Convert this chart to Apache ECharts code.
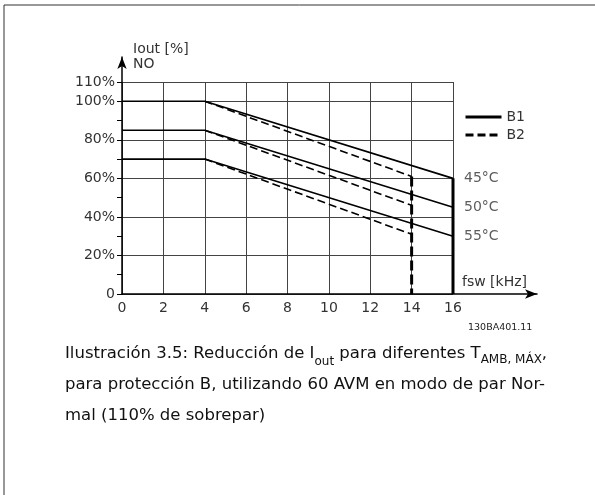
<!DOCTYPE html>
<html>
<head>
<meta charset="utf-8">
<script src="https://cdn.jsdelivr.net/npm/echarts@6/dist/echarts.min.js"></script>
<style>
  html, body { margin: 0; padding: 0; background: #fff; }
  #chart { width: 595px; height: 495px; }
</style>
</head>
<body>
<div id="chart"></div>
<script>
// derating curves, x = fsw [kHz], y = Iout [%]
const b1At45 = [[0, 100], [4, 100], [16, 60]];
const b1At50 = [[0, 85], [4, 85], [16, 45]];
const b1At55 = [[0, 70], [4, 70], [16, 30]];
const b2At45 = [[4, 100], [14, 61]];
const b2At50 = [[4, 85], [14, 46]];
const b2At55 = [[4, 70], [14, 31]];
const b1Drop = [[16, 60], [16, 0]];
const b2Drop = [[14, 61], [14, 0]];
const tempNames = ["45°C", "50°C", "55°C"];
const tempPoints = [[16, 60], [16, 45], [16, 30]];
const legendNames = ["B1", "B2"];

const FONT = "DejaVu Sans";
const TEXT = "#333";
const SIZE = 14;
const chart = echarts.init(document.getElementById("chart"));

function curve(name, data, dashed) {
  return {
    name, type: "line", data,
    xAxisIndex: 0, yAxisIndex: 0,
    symbol: "none", silent: true,
    itemStyle: { color: "#000" },
    lineStyle: { color: "#000", width: 1.6, type: dashed ? [8, 4] : "solid" }
  };
}

function drop(name, data, dashed) {
  return {
    name, type: "line", data,
    xAxisIndex: 0, yAxisIndex: 0,
    symbol: "none", silent: true,
    lineStyle: { color: "#000", width: 3, type: dashed ? [10, 4] : "solid" }
  };
}

function caption(y, text) {
  return {
    type: "text", x: 65, y,
    style: {
      text, fill: "#111", fontFamily: FONT, fontSize: 16.5, verticalAlign: "middle",
      rich: {
        sub: { fontSize: 12, fontFamily: FONT, fill: "#111", verticalAlign: "bottom", lineHeight: 14, padding: [0, 0, -5, 0] },
        sc: { fontSize: 12, fontFamily: FONT, fill: "#111", verticalAlign: "bottom", lineHeight: 14, padding: [0, 0, -3, 0] }
      }
    }
  };
}

chart.setOption({
  animation: false,
  textStyle: { fontFamily: FONT },
  grid: [
    { left: 122, right: 142, top: 82, bottom: 201 },
    { left: 122, right: 58, top: 57, bottom: 201 }
  ],
  legend: {
    data: legendNames,
    orient: "vertical",
    left: 464, top: 110,
    itemWidth: 36, itemHeight: 12, itemGap: 4,
    padding: 0,
    itemStyle: { opacity: 0 },
    lineStyle: { width: 3, color: "#000" },
    textStyle: { fontFamily: FONT, fontSize: SIZE, color: TEXT }
  },
  xAxis: [
    {
      type: "value", gridIndex: 0, min: 0, max: 16, interval: 2,
      axisLine: { show: false },
      axisTick: { show: false },
      axisLabel: { color: TEXT, fontSize: SIZE, fontFamily: FONT, margin: 7 },
      splitLine: { show: true, lineStyle: { color: "#444", width: 1 } }
    },
    {
      type: "value", gridIndex: 1, min: 0, max: 1,
      axisLine: { show: true, onZero: false, symbol: ["none", "arrow"], symbolSize: [7, 12], lineStyle: { color: "#000", width: 1.5 } },
      axisTick: { show: false }, axisLabel: { show: false }, splitLine: { show: false }
    }
  ],
  yAxis: [
    {
      type: "value", gridIndex: 0, min: 0, max: 110, interval: 20,
      axisLine: { show: false },
      axisTick: { show: false },
      axisLabel: {
        color: TEXT, fontSize: SIZE, fontFamily: FONT, margin: 7,
        formatter: v => (v === 0 ? "0" : v + "%")
      },
      splitLine: { show: true, lineStyle: { color: "#444", width: 1 } }
    },
    {
      // tick marks every 10 %
      type: "value", gridIndex: 0, position: "left", min: 0, max: 110, interval: 10,
      axisLine: { show: false },
      axisTick: { show: true, length: 5, lineStyle: { color: "#000", width: 1 } },
      axisLabel: { show: false }, splitLine: { show: false }
    },
    {
      type: "value", gridIndex: 1, min: 0, max: 1,
      axisLine: { show: true, onZero: false, symbol: ["none", "arrow"], symbolSize: [7, 12], lineStyle: { color: "#000", width: 1.5 } },
      axisTick: { show: false }, axisLabel: { show: false }, splitLine: { show: false }
    }
  ],
  series: [
    curve("B1", b1At45, false),
    curve("B1", b1At50, false),
    curve("B1", b1At55, false),
    curve("B2", b2At45, true),
    curve("B2", b2At50, true),
    curve("B2", b2At55, true),
    drop("B1 limit", b1Drop, false),
    drop("B2 limit", b2Drop, true),
    {
      name: "temps", type: "scatter", data: tempPoints,
      xAxisIndex: 0, yAxisIndex: 0,
      symbolSize: 0, silent: true,
      label: {
        show: true, position: "right", distance: 11,
        color: TEXT, fontSize: SIZE, fontFamily: FONT,
        formatter: p => tempNames[p.dataIndex]
      }
    }
  ],
  graphic: [
    { type: "line", shape: { x1: 4, y1: 5, x2: 595, y2: 5 }, style: { stroke: "#333", lineWidth: 1 } },
    { type: "line", shape: { x1: 4, y1: 5, x2: 4, y2: 495 }, style: { stroke: "#333", lineWidth: 1 } },
    { type: "text", x: 133, y: 49, style: { text: "Iout [%]", fill: TEXT, fontFamily: FONT, fontSize: SIZE, verticalAlign: "middle" } },
    { type: "text", x: 133, y: 64, style: { text: "NO", fill: TEXT, fontFamily: FONT, fontSize: SIZE, verticalAlign: "middle" } },
    { type: "text", x: 462, y: 282, style: { text: "fsw [kHz]", fill: TEXT, fontFamily: FONT, fontSize: SIZE, verticalAlign: "middle" } },
    { type: "text", x: 468, y: 328, style: { text: "130BA401.11", fill: "#222", fontFamily: FONT, fontSize: 9.5, verticalAlign: "middle" } },
    caption(354, "Ilustración 3.5: Reducción de I{sub|out} para diferentes T{sc|AMB, MÁX},"),
    caption(385, "para protección B, utilizando 60 AVM en modo de par Nor-"),
    caption(416, "mal (110% de sobrepar)")
  ]
});
</script>
</body>
</html>
